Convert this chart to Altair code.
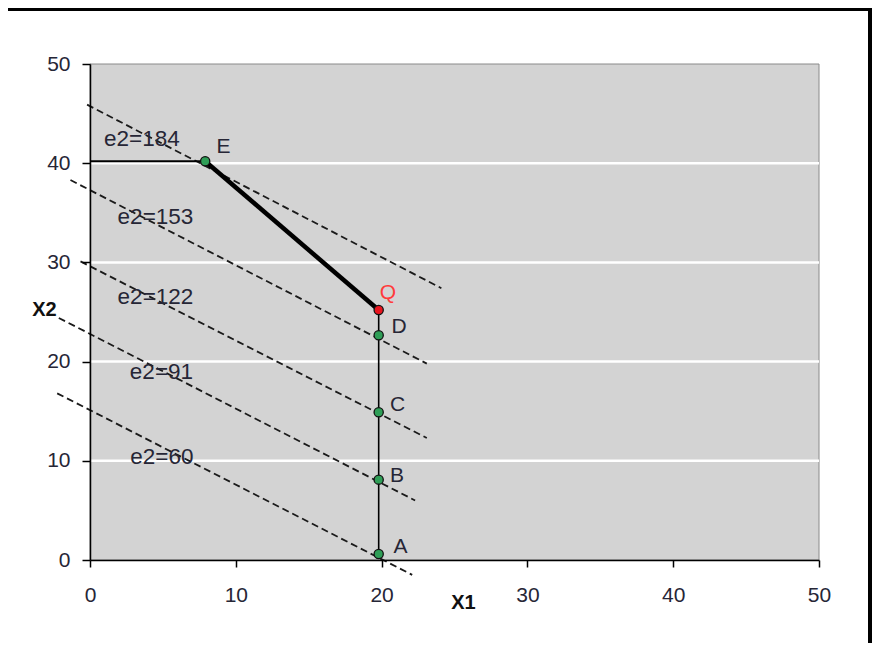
import altair as alt
import pandas as pd

# ---------------- data ----------------
x_ticks = [0, 10, 20, 30, 40, 50]
y_ticks = [0, 10, 20, 30, 40, 50]
grid_values = [10, 20, 30, 40]

point_names = ["A", "B", "C", "D", "Q", "E"]
point_x = [19.8, 19.8, 19.8, 19.8, 19.8, 7.9]
point_y = [0.6, 8.1, 14.9, 22.65, 25.2, 40.2]
point_label_x = [21.3, 21.05, 21.1, 21.2, 20.44, 9.15]
point_label_y = [1.3, 8.5, 15.6, 23.5, 26.9, 41.6]

iso_names = ["e2=184", "e2=153", "e2=122", "e2=91", "e2=60"]
iso_x_start = [-0.2, -1.34, -0.65, -2.14, -2.25]
iso_y_start = [45.9, 38.3, 30.1, 24.4, 16.8]
iso_x_end = [24.1, 23.1, 23.1, 22.3, 22.1]
iso_y_end = [27.4, 19.8, 12.3, 6.0, -1.5]
iso_label_x = [3.56, 4.49, 4.49, 4.9, 4.93]
iso_label_y = [42.4, 34.6, 26.5, 19.0, 10.4]

# boundary path: along x2 = 40.2 to E, then E to Q, then Q down to A
boundary_x = [0, 7.9, 19.8, 19.8]
boundary_y = [40.2, 40.2, 25.2, 0.6]

# ---------------- layout / style ----------------
W, H = 729, 496
PAD = {"left": 82, "top": 56, "right": 53, "bottom": 83}
FONT = "Liberation Sans"
TXT = "#262636"

xs = alt.Scale(domain=[0, 50], nice=False, zero=False)
ys = alt.Scale(domain=[0, 50], nice=False, zero=False)

xaxis = alt.Axis(values=x_ticks, grid=False, title="X1", titleX=373, titleY=42,
                 titleAlign="center", titleBaseline="middle", titleFontWeight="bold",
                 titleFontSize=20, titleFont=FONT, titleColor="#111111",
                 labelFont=FONT, labelFontSize=21, labelColor=TXT, labelPadding=17,
                 labelFlush=False, labelOverlap=False,
                 domainColor="black", domainWidth=1.5, tickColor="black", tickWidth=1.5,
                 tickSize=7, zindex=1, format="d")
yaxis = alt.Axis(values=y_ticks, grid=False, title="X2", titleX=-46, titleY=245,
                 titleAngle=0, titleAlign="center", titleBaseline="middle",
                 titleFontWeight="bold", titleFontSize=20, titleFont=FONT,
                 titleColor="#111111", labelFont=FONT, labelFontSize=21,
                 labelFlush=False, labelOverlap=False,
                 labelColor=TXT, labelPadding=12, domainColor="black", domainWidth=1.5,
                 tickColor="black", tickWidth=1.5, tickSize=8, zindex=1, format="d")

one = pd.DataFrame({"k": [0]})

panel = alt.Chart(one).mark_rect(color="white").encode(
    x=alt.value(-82), x2=alt.value(778), y=alt.value(-53), y2=alt.value(H + 90))

plot_bg = alt.Chart(one).mark_rect(fill="#d3d3d3", stroke="#8a8a8a", strokeWidth=1).encode(
    x=alt.value(0), x2=alt.value(W), y=alt.value(0), y2=alt.value(H))

grid = alt.Chart(pd.DataFrame({"y": grid_values})).mark_rule(
    color="white", strokeWidth=2.5).encode(
    y=alt.Y("y:Q", scale=ys, axis=yaxis), x=alt.value(0), x2=alt.value(W))

iso_df = pd.DataFrame({"name": iso_names, "x": iso_x_start, "y": iso_y_start,
                       "x2": iso_x_end, "y2": iso_y_end,
                       "lx": iso_label_x, "ly": iso_label_y})

iso = alt.Chart(iso_df).mark_rule(color="#1a1a1a", strokeWidth=1.8,
                                  strokeDash=[7, 4]).encode(
    x=alt.X("x:Q", scale=xs, axis=xaxis), y=alt.Y("y:Q", scale=ys, axis=yaxis),
    x2="x2:Q", y2="y2:Q")

iso_text = alt.Chart(iso_df).mark_text(font=FONT, fontSize=22.5, color=TXT,
                                       align="center", baseline="middle").encode(
    x=alt.X("lx:Q", scale=xs, axis=xaxis), y=alt.Y("ly:Q", scale=ys, axis=yaxis),
    text="name:N")

seg_df = pd.DataFrame({"x": boundary_x[:-1], "y": boundary_y[:-1],
                       "x2": boundary_x[1:], "y2": boundary_y[1:], "i": [0, 1, 2]})
seg_widths = [2, 4.5, 1.6]
segs = [
    alt.Chart(seg_df).transform_filter(alt.datum.i == i).mark_rule(
        color="black", strokeWidth=w).encode(
        x=alt.X("x:Q", scale=xs, axis=xaxis), y=alt.Y("y:Q", scale=ys, axis=yaxis),
        x2="x2:Q", y2="y2:Q")
    for i, w in enumerate(seg_widths)
]

pt_df = pd.DataFrame({"name": point_names, "x": point_x, "y": point_y,
                      "lx": point_label_x, "ly": point_label_y})

points = alt.Chart(pt_df).mark_point(filled=True, shape="circle", size=85,
                                     stroke="#111111", strokeWidth=1.3, opacity=1).encode(
    x=alt.X("x:Q", scale=xs, axis=xaxis), y=alt.Y("y:Q", scale=ys, axis=yaxis),
    fill=alt.condition(alt.datum.name == "Q", alt.value("#e8141e"), alt.value("#2f9e57")))

pt_text = alt.Chart(pt_df).mark_text(font=FONT, fontSize=21, align="center",
                                     baseline="middle").encode(
    x=alt.X("lx:Q", scale=xs, axis=xaxis), y=alt.Y("ly:Q", scale=ys, axis=yaxis),
    text="name:N",
    color=alt.condition(alt.datum.name == "Q", alt.value("#ff3b3b"), alt.value(TXT)))

chart = alt.layer(panel, plot_bg, grid, iso, *segs, points, iso_text, pt_text).properties(
    width=W, height=H, padding=PAD, background="black",
    autosize=alt.AutoSizeParams(type="none")
).configure_view(stroke=None, fill=None)

chart.save("out.html", embed_options={"renderer": "svg", "actions": False})
